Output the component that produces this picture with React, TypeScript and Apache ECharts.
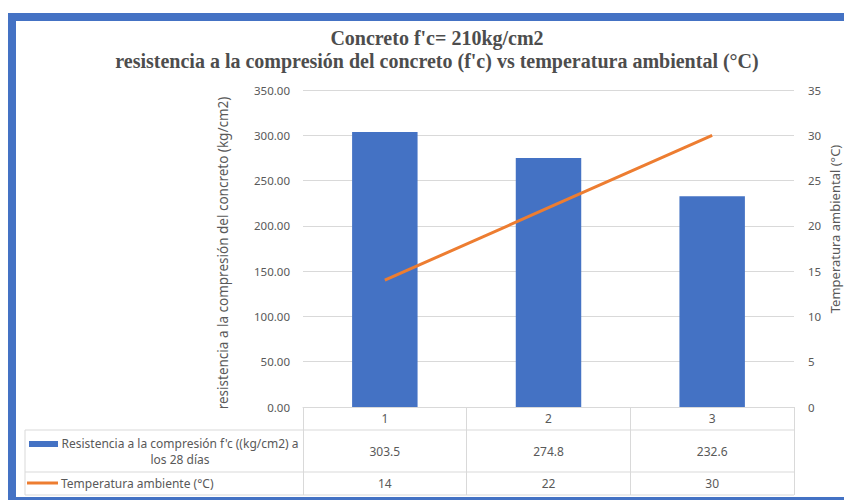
import React, { useEffect, useRef } from "react";
import * as echarts from "echarts";

const titleLines = [
  "Concreto f'c= 210kg/cm2",
  "resistencia a la compresión del concreto (f'c) vs temperatura ambiental (°C)",
];
const categories = ["1", "2", "3"];
const strengthName = "Resistencia a la compresión f'c ((kg/cm2) a\nlos 28 días";
const strengthValues = [303.5, 274.8, 232.6];
const tempName = "Temperatura ambiente (°C)";
const tempValues = [14, 22, 30];
const leftAxisName = "resistencia a la compresión del concreto (kg/cm2)";
const rightAxisName = "Temperatura ambiental (°C)";

const W = 844;
const H = 500;
const GRID = { left: 303, right: 50, top: 90, bottom: 93 };
const BLUE = "#4472C4";
const ORANGE = "#ED7D31";
const GRAY_TXT = "#595959";
const LINE = "#d9d9d9";
const FONT = "Noto Sans";

export default function App() {
  const ref = useRef<HTMLDivElement>(null);
  useEffect(() => {
    if (!ref.current) return;
    const chart = echarts.init(ref.current, undefined, { renderer: "svg" });
    const plotW = W - GRID.left - GRID.right;
    const band = plotW / categories.length;
    const axisY = H - GRID.bottom;
    const row1Top = axisY + 23;
    const row2Top = axisY + 65;
    const tableBottom = axisY + 88;
    const tableLeft = 25;
    const tableRight = W - GRID.right;

    const g: any[] = [];
    // frame bands
    g.push({ type: "rect", shape: { x: 8, y: 13, width: W - 8, height: 8 }, style: { fill: BLUE } });
    g.push({ type: "rect", shape: { x: 8, y: 13, width: 8, height: H - 13 }, style: { fill: BLUE } });
    g.push({ type: "rect", shape: { x: 8, y: 497, width: W - 8, height: 3 }, style: { fill: BLUE } });
    // table lines
    [row1Top, row2Top, tableBottom].forEach((y) =>
      g.push({
        type: "line",
        shape: { x1: tableLeft, y1: y, x2: tableRight, y2: y },
        style: { stroke: LINE, lineWidth: 1 },
      })
    );
    g.push({
      type: "line",
      shape: { x1: tableLeft, y1: row1Top, x2: tableLeft, y2: tableBottom },
      style: { stroke: LINE, lineWidth: 1 },
    });
    // legend keys
    g.push({ type: "rect", shape: { x: 29, y: 441, width: 29, height: 6 }, style: { fill: BLUE } });
    g.push({
      type: "line",
      shape: { x1: 27, y1: 483, x2: 58, y2: 483 },
      style: { stroke: ORANGE, lineWidth: 3 },
    });
    g.push({
      type: "text",
      x: 180,
      y: (row1Top + row2Top) / 2,
      style: {
        text: strengthName,
        fill: GRAY_TXT,
        font: `12px "${FONT}"`,
        align: "center",
        verticalAlign: "middle",
        lineHeight: 16,
      },
    });
    g.push({
      type: "text",
      x: 61,
      y: (row2Top + tableBottom) / 2,
      style: { text: tempName, fill: GRAY_TXT, font: `12px "${FONT}"`, align: "left", verticalAlign: "middle" },
    });
    categories.forEach((_, i) => {
      const cx = GRID.left + band * (i + 0.5);
      g.push({
        type: "text",
        x: cx,
        y: (row1Top + row2Top) / 2,
        style: { text: String(strengthValues[i]), fill: GRAY_TXT, font: `12px "${FONT}"`, align: "center", verticalAlign: "middle" },
      });
      g.push({
        type: "text",
        x: cx,
        y: (row2Top + tableBottom) / 2,
        style: { text: String(tempValues[i]), fill: GRAY_TXT, font: `12px "${FONT}"`, align: "center", verticalAlign: "middle" },
      });
    });
    // axis names
    g.push({
      type: "text",
      x: 223,
      y: 253,
      rotation: Math.PI / 2,
      style: { text: leftAxisName, fill: GRAY_TXT, font: `13.5px "${FONT}"`, align: "center", verticalAlign: "middle" },
    });
    g.push({
      type: "text",
      x: 835,
      y: 229,
      rotation: Math.PI / 2,
      style: { text: rightAxisName, fill: GRAY_TXT, font: `13px "${FONT}"`, align: "center", verticalAlign: "middle" },
    });

    chart.setOption({
      animation: false,
      backgroundColor: "#ffffff",
      title: {
        text: titleLines.join("\n"),
        left: 432,
        top: 21,
        textAlign: "center",
        textStyle: {
          fontFamily: "Liberation Serif",
          fontSize: 20,
          fontWeight: "bold",
          color: "#4d4d4d",
          lineHeight: 23,
        },
      },
      grid: { ...GRID, containLabel: false },
      xAxis: {
        type: "category",
        data: categories,
        axisLine: { lineStyle: { color: LINE } },
        axisTick: { show: true, length: 88, lineStyle: { color: LINE } },
        axisLabel: { color: GRAY_TXT, fontFamily: FONT, fontSize: 12, margin: 5 },
      },
      yAxis: [
        {
          type: "value",
          min: 0,
          max: 350,
          interval: 50,
          axisLine: { show: false },
          axisTick: { show: false },
          splitLine: { lineStyle: { color: LINE } },
          axisLabel: {
            color: GRAY_TXT,
            fontFamily: FONT,
            fontSize: 11.5,
            margin: 13,
            formatter: (v: number) => v.toFixed(2),
          },
        },
        {
          type: "value",
          min: 0,
          max: 35,
          interval: 5,
          axisLine: { show: false },
          axisTick: { show: false },
          splitLine: { show: false },
          axisLabel: { color: GRAY_TXT, fontFamily: FONT, fontSize: 11.5, margin: 14 },
        },
      ],
      series: [
        {
          type: "bar",
          name: strengthName,
          data: strengthValues,
          barWidth: "40%",
          itemStyle: { color: BLUE },
          yAxisIndex: 0,
        },
        {
          type: "line",
          name: tempName,
          data: tempValues,
          yAxisIndex: 1,
          symbol: "none",
          lineStyle: { color: ORANGE, width: 3 },
        },
      ],
      graphic: g,
    });
    return () => chart.dispose();
  }, []);
  return (
    <div
      ref={ref}
      style={{ position: "fixed", left: 0, top: 0, width: W, height: H }}
    />
  );
}
